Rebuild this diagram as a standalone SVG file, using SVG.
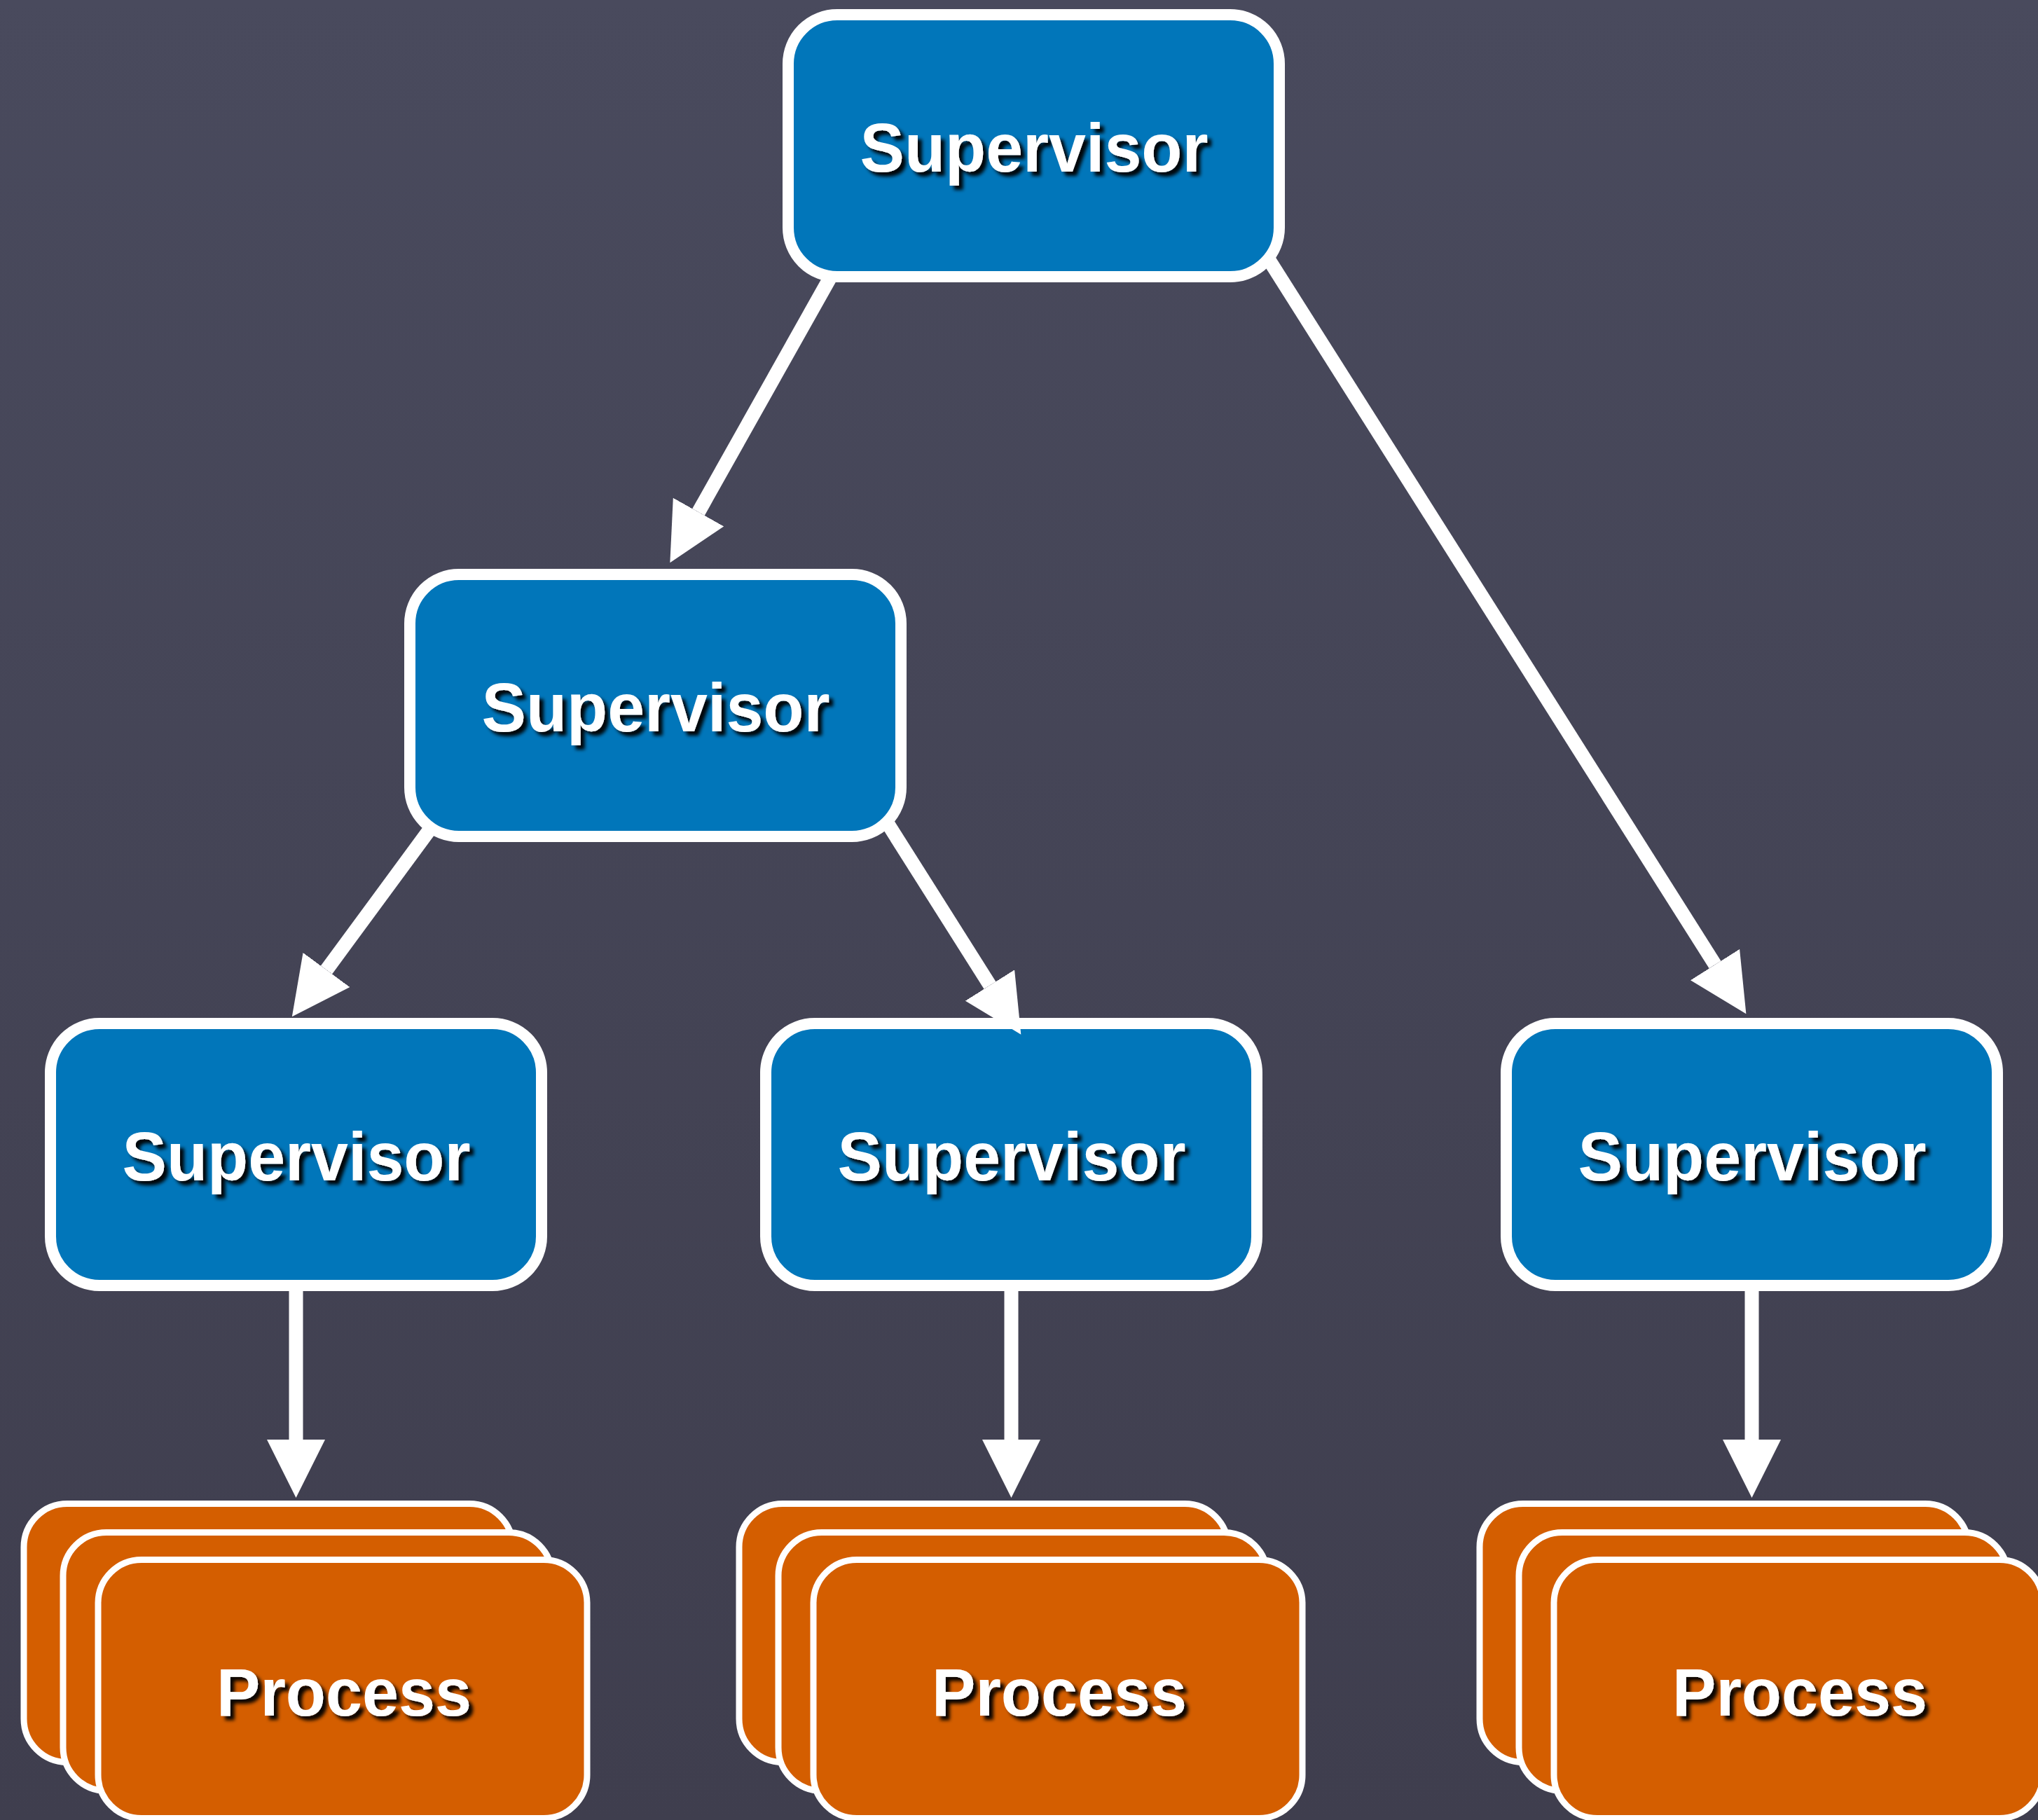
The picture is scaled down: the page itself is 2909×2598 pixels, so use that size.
<svg xmlns="http://www.w3.org/2000/svg" width="2909" height="2598" viewBox="0 0 2909 2598">
  <defs>
    <linearGradient id="bg" x1="0" y1="0" x2="0" y2="1">
      <stop offset="0" stop-color="#494A5D"/>
      <stop offset="1" stop-color="#3F3E4E"/>
    </linearGradient>
    <filter id="shadow" x="-10%" y="-30%" width="130%" height="170%">
      <feDropShadow dx="6" dy="6" stdDeviation="2.5" flood-color="#000" flood-opacity="0.95"/>
    </filter>
    <marker id="head" markerUnits="userSpaceOnUse" viewBox="0 0 83 83" markerWidth="83" markerHeight="83" refX="0" refY="41.5" orient="auto">
      <path d="M0,0 L83,41.5 L0,83 Z" fill="#fff"/>
    </marker>
  </defs>
  <style>
    .sup { fill: #0176BA; stroke: #fff; stroke-width: 16; }
    .proc { fill: #D45E00; stroke: #fff; stroke-width: 9; }
    .label { font-family: "Liberation Sans", Arial, Helvetica, sans-serif; font-weight: bold; fill: #fff; text-anchor: middle; filter: url(#shadow); }
    .sl { font-size: 98px; }
    .pl { font-size: 96px; }
    .edge { stroke: #fff; stroke-width: 20; fill: none; marker-end: url(#head); }
  </style>
  <rect x="0" y="0" width="2909" height="2598" fill="url(#bg)"/>

  <g id="sup-root">
    <rect class="sup" x="1125" y="21" width="701" height="374" rx="70" ry="70"/>
    <text class="label sl" x="1476" y="245" textLength="497" lengthAdjust="spacingAndGlyphs">Supervisor</text>
  </g>
  <g id="sup-mid">
    <rect class="sup" x="585" y="820" width="701" height="374" rx="70" ry="70"/>
    <text class="label sl" x="936" y="1044" textLength="497" lengthAdjust="spacingAndGlyphs">Supervisor</text>
  </g>
  <g id="sup-left">
    <rect class="sup" x="72" y="1461" width="701" height="374" rx="70" ry="70"/>
    <text class="label sl" x="423" y="1685" textLength="497" lengthAdjust="spacingAndGlyphs">Supervisor</text>
  </g>
  <g id="sup-center">
    <rect class="sup" x="1093" y="1461" width="701" height="374" rx="70" ry="70"/>
    <text class="label sl" x="1444" y="1685" textLength="497" lengthAdjust="spacingAndGlyphs">Supervisor</text>
  </g>
  <g id="sup-right">
    <rect class="sup" x="2150" y="1461" width="701" height="374" rx="70" ry="70"/>
    <text class="label sl" x="2501" y="1685" textLength="497" lengthAdjust="spacingAndGlyphs">Supervisor</text>
  </g>

  <g id="proc-left">
    <rect class="proc" x="34" y="2146.5" width="698" height="369" rx="62" ry="62"/>
    <rect class="proc" x="90" y="2187.5" width="698" height="369" rx="62" ry="62"/>
    <rect class="proc" x="140" y="2226.5" width="698" height="369" rx="62" ry="62"/>
    <text class="label pl" x="491" y="2449" textLength="364" lengthAdjust="spacingAndGlyphs">Process</text>
  </g>
  <g id="proc-center">
    <rect class="proc" x="1055" y="2146.5" width="698" height="369" rx="62" ry="62"/>
    <rect class="proc" x="1111" y="2187.5" width="698" height="369" rx="62" ry="62"/>
    <rect class="proc" x="1161" y="2226.5" width="698" height="369" rx="62" ry="62"/>
    <text class="label pl" x="1512" y="2449" textLength="364" lengthAdjust="spacingAndGlyphs">Process</text>
  </g>
  <g id="proc-right">
    <rect class="proc" x="2112" y="2146.5" width="698" height="369" rx="62" ry="62"/>
    <rect class="proc" x="2168" y="2187.5" width="698" height="369" rx="62" ry="62"/>
    <rect class="proc" x="2218" y="2226.5" width="698" height="369" rx="62" ry="62"/>
    <text class="label pl" x="2569" y="2449" textLength="364" lengthAdjust="spacingAndGlyphs">Process</text>
  </g>

  <g id="connectors">
    <line class="edge" x1="1184" y1="398" x2="997" y2="731"/>
    <line class="edge" x1="1812" y1="372" x2="2448" y2="1377"/>
    <line class="edge" x1="612" y1="1186" x2="466" y2="1384.5"/>
    <line class="edge" x1="1268" y1="1177" x2="1413" y2="1406.5"/>
    <line class="edge" x1="422.5" y1="1835" x2="422.5" y2="2055"/>
    <line class="edge" x1="1443.5" y1="1835" x2="1443.5" y2="2055"/>
    <line class="edge" x1="2500.5" y1="1835" x2="2500.5" y2="2055"/>
  </g>
</svg>
